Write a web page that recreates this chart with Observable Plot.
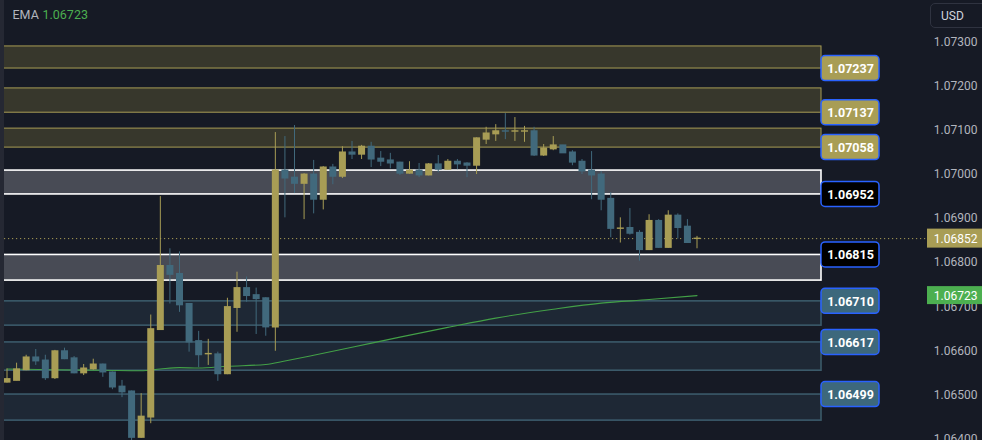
<!DOCTYPE html>
<html><head><meta charset="utf-8">
<script src="https://cdn.jsdelivr.net/npm/d3@7"></script>
<script src="https://cdn.jsdelivr.net/npm/@observablehq/plot@0.6"></script>
<style>
html,body{margin:0;padding:0;background:#161a25;}
#wrap{position:relative;width:982px;height:440px;overflow:hidden;font-family:Roboto,sans-serif;background:#161a25;}
#wrap svg{display:block;}
#strip{position:absolute;left:0;top:0;width:4px;height:440px;background:#252833;}
#usd{position:absolute;left:930px;top:3px;width:60px;height:25px;border:1px solid #2f3340;border-radius:5px;color:#d1d4dc;font-size:12px;line-height:24px;padding-left:10px;box-sizing:border-box;}
</style></head><body><div id="wrap"></div>
<script>
// ---- candle data (OHLC) ----
const open  = [1.06526,1.06530,1.06554,1.06583,1.06576,1.06536,1.06597,1.06581,1.06547,1.06556,1.06567,1.06549,1.06517,1.06506,1.06401,1.06447,1.06645,1.06790,1.06772,1.06704,1.06620,1.06590,1.06590,1.06545,1.06695,1.06740,1.06724,1.06717,1.06651,1.07006,1.06990,1.06976,1.06997,1.06940,1.07013,1.06992,1.07047,1.07042,1.07060,1.07033,1.07029,1.07024,1.06999,1.07006,1.06995,1.07020,1.07008,1.07026,1.07022,1.07017,1.07076,1.07088,1.07095,1.07094,1.07094,1.07095,1.07040,1.07054,1.07063,1.07047,1.07026,1.07006,1.06997,1.06942,1.06874,1.06876,1.06865,1.06826,1.06892,1.06831,1.06904,1.06879,1.06851];
const high  = [1.06557,1.06570,1.06588,1.06601,1.06588,1.06599,1.06604,1.06585,1.06567,1.06579,1.06568,1.06550,1.06531,1.06507,1.06501,1.06679,1.06947,1.06829,1.06822,1.06705,1.06642,1.06624,1.06595,1.06717,1.06776,1.06765,1.06740,1.06718,1.07092,1.07083,1.07108,1.06999,1.07029,1.07015,1.07020,1.07060,1.07072,1.07063,1.07070,1.07049,1.07045,1.07025,1.07026,1.07022,1.07022,1.07040,1.07031,1.07031,1.07024,1.07080,1.07104,1.07110,1.07135,1.07126,1.07106,1.07104,1.07065,1.07083,1.07063,1.07051,1.07031,1.07049,1.07004,1.06956,1.06899,1.06920,1.06870,1.06906,1.06895,1.06915,1.06908,1.06895,1.06857];
const low   = [1.06525,1.06530,1.06553,1.06565,1.06531,1.06533,1.06578,1.06546,1.06542,1.06554,1.06538,1.06510,1.06492,1.06388,1.06400,1.06433,1.06644,1.06704,1.06685,1.06595,1.06560,1.06565,1.06529,1.06544,1.06640,1.06708,1.06635,1.06631,1.06597,1.06899,1.06954,1.06895,1.06908,1.06917,1.06974,1.06988,1.07031,1.07031,1.07013,1.07015,1.07010,1.06995,1.06998,1.06990,1.06994,1.07001,1.07007,1.07008,1.06990,1.06997,1.07065,1.07072,1.07076,1.07072,1.07070,1.07038,1.07038,1.07051,1.07045,1.07017,1.06997,1.06940,1.06915,1.06854,1.06842,1.06860,1.06801,1.06825,1.06830,1.06830,1.06851,1.06841,1.06829];
const close = [1.06534,1.06556,1.06583,1.06574,1.06536,1.06597,1.06579,1.06547,1.06558,1.06567,1.06549,1.06515,1.06504,1.06401,1.06449,1.06647,1.06790,1.06770,1.06701,1.06617,1.06588,1.06591,1.06545,1.06697,1.06740,1.06722,1.06715,1.06651,1.07006,1.06988,1.06976,1.06997,1.06940,1.07013,1.06992,1.07047,1.07042,1.07060,1.07031,1.07026,1.07022,1.06999,1.07006,1.06995,1.07020,1.07008,1.07026,1.07020,1.07017,1.07079,1.07090,1.07095,1.07094,1.07095,1.07095,1.07040,1.07056,1.07063,1.07045,1.07024,1.07004,1.06995,1.06940,1.06874,1.06875,1.06863,1.06826,1.06892,1.06831,1.06904,1.06876,1.06842,1.06852];

// ---- EMA readings (candle index, value) ----
const emaIndex = [0,5,10,14,16,18,20,23,27,29,32,36,41,46,51,57,62,67,72];
const emaValue = [1.06557,1.06555,1.06554,1.06553,1.06557,1.06560,1.06559,1.06563,1.06567,1.06575,1.06588,1.06606,1.06629,1.06651,1.06672,1.06692,1.06706,1.06714,1.06723];

// ---- zones ----
const zoneKind  = ["supply","supply","supply","pivot","pivot","demand","demand","demand"];
const zoneHigh  = [1.07287,1.07192,1.07101,1.07006,1.06815,1.06710,1.06617,1.06499];
const zoneLow   = [1.07237,1.07137,1.07058,1.06952,1.06757,1.06655,1.06553,1.06440];
const zoneLabel = [1.07237,1.07137,1.07058,1.06952,1.06815,1.06710,1.06617,1.06499];

// ---- axis / tags ----
const tickValues = [1.064,1.065,1.066,1.067,1.068,1.069,1.070,1.071,1.072,1.073];
const lastPrice = 1.06852;
const emaLast = 1.06723;

const YELLOW = "#a89d55", BLUE = "#41697c";
const fmt = d3.format(".5f");

const candles = open.map((o, i) => ({
  i, open: o, high: high[i], low: low[i], close: close[i],
  top: Math.max(o, close[i]), bot: Math.min(o, close[i]), up: close[i] >= o
}));
const ema = emaIndex.map((i, k) => ({i, v: emaValue[k]}));
const zones = zoneKind.map((k, j) => ({kind: k, hi: zoneHigh[j], lo: zoneLow[j], label: zoneLabel[j]}));

const zoneStyle = {
  supply: {fill: "#37372c", stroke: "#a89d55", sw: 1},
  pivot:  {fill: "#484b55", stroke: "#ffffff", sw: 1.6},
  demand: {fill: "#1e2835", stroke: "#3b5a6a", sw: 1.6}
};
const labelFill = {supply: "#a89d55", pivot: "#000000", demand: "#3d687c"};

const marks = [];
for (const k of ["supply","pivot","demand"]) {
  marks.push(Plot.rect(zones.filter(z => z.kind === k), {
    y1: "hi", y2: "lo", fill: zoneStyle[k].fill, stroke: zoneStyle[k].stroke,
    strokeWidth: zoneStyle[k].sw, insetLeft: -3
  }));
}
marks.push(
  Plot.ruleY([lastPrice], {y: d => d, stroke: YELLOW, strokeDasharray: "1.2,2.8", strokeWidth: 1, insetRight: -106}),
  Plot.line(ema, {x: "i", y: "v", stroke: "#43a047", strokeWidth: 1.1, curve: "monotone-x"}),
  Plot.ruleX(candles.filter(d => d.up), {x: "i", y1: "high", y2: "low", stroke: YELLOW, strokeWidth: 1}),
  Plot.ruleX(candles.filter(d => !d.up), {x: "i", y1: "high", y2: "low", stroke: BLUE, strokeWidth: 1}),
  Plot.ruleX(candles.filter(d => d.up), {x: "i", y1: "top", y2: "bot", stroke: YELLOW, strokeWidth: 7, insetTop: -0.5, insetBottom: -0.5}),
  Plot.ruleX(candles.filter(d => !d.up), {x: "i", y1: "top", y2: "bot", stroke: BLUE, strokeWidth: 7, insetTop: -0.5, insetBottom: -0.5})
);
for (const k of ["supply","pivot","demand"]) {
  marks.push(Plot.rect(zones.filter(z => z.kind === k), {
    y1: "label", y2: "label", fill: labelFill[k], stroke: "#2962ff", strokeWidth: 1.5, rx: 4,
    insetLeft: 817, insetRight: -58, insetTop: -12.5, insetBottom: -12.5
  }));
}
marks.push(
  Plot.text(zones, {y: "label", text: d => fmt(d.label), frameAnchor: "right", dx: 29, dy: 0.5,
    fill: "#ffffff", fontSize: 12.5, fontWeight: "bold", textAnchor: "middle"}),
  Plot.text(tickValues, {y: d => d, text: d => fmt(d), frameAnchor: "right", dx: 156, dy: 1,
    textAnchor: "end", fill: "#b2b5be", fontSize: 12}),
  Plot.rect([lastPrice], {y1: d => d, y2: d => d, fill: YELLOW, insetLeft: 923, insetRight: -161, insetTop: -9.5, insetBottom: -9.5}),
  Plot.text([lastPrice], {y: d => d, text: d => fmt(d), frameAnchor: "right", dx: 156, dy: 1, textAnchor: "end", fill: "#ffffff", fontSize: 12}),
  Plot.rect([emaLast], {y1: d => d, y2: d => d, fill: "#4caf50", insetLeft: 923, insetRight: -161, insetTop: -9, insetBottom: -9}),
  Plot.text([emaLast], {y: d => d, text: d => fmt(d), frameAnchor: "right", dx: 156, dy: 1, textAnchor: "end", fill: "#ffffff", fontSize: 12}),
  Plot.text(["EMA"], {text: d => d, frameAnchor: "top-left", dx: 8, dy: 14, lineAnchor: "middle", textAnchor: "start", fill: "#b2b5be", fontSize: 12.5}),
  Plot.text([emaLast], {text: d => fmt(d), frameAnchor: "top-left", dx: 38, dy: 14, lineAnchor: "middle", textAnchor: "start", fill: "#4caf50", fontSize: 12.5})
);

const chart = Plot.plot({
  width: 982, height: 440,
  marginTop: 0, marginBottom: 0, marginLeft: 4, marginRight: 161,
  x: {domain: [0, 72], range: [6.5, 696.5], axis: null},
  y: {domain: [1.06395, 1.07391], axis: null},
  style: {background: "transparent", fontFamily: "Roboto, sans-serif", overflow: "visible"},
  marks
});
const wrap = document.getElementById("wrap");
wrap.appendChild(chart);
const strip = document.createElement("div"); strip.id = "strip"; wrap.appendChild(strip);
const usd = document.createElement("div"); usd.id = "usd"; usd.textContent = "USD"; wrap.appendChild(usd);
</script>
</body></html>
